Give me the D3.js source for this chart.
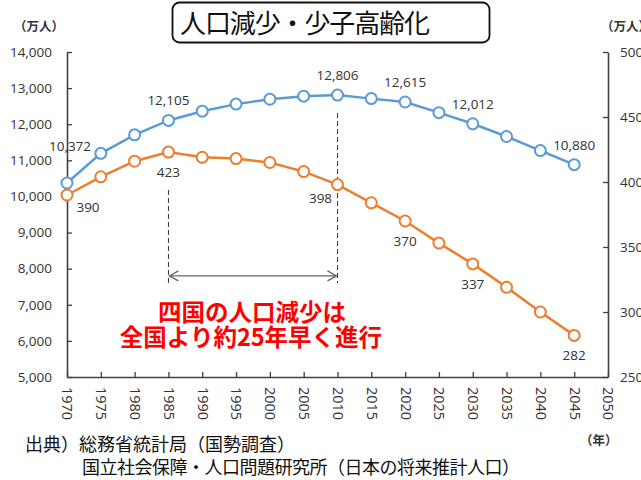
<!DOCTYPE html>
<html><head><meta charset="utf-8">
<script src="https://cdn.jsdelivr.net/npm/d3@7"></script>
<style>
html,body{margin:0;padding:0;background:#fff;}
svg{display:block;}
text{font-family:"Open Sans","Noto Sans CJK JP",sans-serif;}
.jp{font-family:"Noto Sans CJK JP","Noto Sans",sans-serif;}
</style></head>
<body>
<svg id="c" width="641" height="480"></svg>
<script>
// ---- data ----
const years   = [1970,1975,1980,1985,1990,1995,2000,2005,2010,2015,2020,2025,2030,2035,2040,2045];
const japan   = [10372,11194,11706,12105,12361,12557,12693,12777,12806,12709,12615,12320,12012,11660,11270,10880];
const shikoku = [390,404,416,423,419,418,415,408,398,384,370,353,337,319,300,282];
const xTicks     = [1970,1975,1980,1985,1990,1995,2000,2005,2010,2015,2020,2025,2030,2035,2040,2045,2050];
const leftTicks  = [5000,6000,7000,8000,9000,10000,11000,12000,13000,14000];
const rightTicks = [250,300,350,400,450,500];
const japanLabelYears   = [1970,1985,2010,2020,2030,2045];
const shikokuLabelYears = [1970,1985,2010,2020,2030,2045];
const title = "人口減少・少子高齢化";
const unitLabel = "（万人）";
const yearUnit = "（年）";
const note = ["四国の人口減少は","全国より約25年早く進行"];
const sources = ["出典）総務省統計局（国勢調査）","国立社会保障・人口問題研究所（日本の将来推計人口）"];

// ---- scales ----
const svg = d3.select("#c");
const x  = d3.scaleLinear().domain([1970,2050]).range([67,608]);
const yL = d3.scaleLinear().domain([5000,14000]).range([377,52]);
const yR = d3.scaleLinear().domain([250,500]).range([377,52]);
const blue = "#5B9BD5", orange = "#ED7D31", axisCol = "#404040", txt = "#333";

// ---- title box ----
svg.append("rect").attr("x",172.5).attr("y",2.5).attr("width",317).attr("height",40)
  .attr("rx",7).attr("fill","#fff").attr("stroke","#111").attr("stroke-width",1.8);
svg.append("text").attr("class","jp").attr("x",180).attr("y",33).attr("font-size",26)
  .attr("textLength",250).attr("lengthAdjust","spacing")
  .attr("fill","#111").text(title);

// ---- axes ----
function styleAxis(g){
  g.select(".domain").attr("stroke",axisCol).attr("stroke-width",1.6);
  g.selectAll(".tick line").attr("stroke",axisCol).attr("stroke-width",1.3);
  g.selectAll(".tick text").attr("fill",txt).attr("font-size",13.5)
    .attr("font-family","'Open Sans',sans-serif");
}
const gl = svg.append("g").attr("transform",`translate(${x(1970)},0)`)
  .call(d3.axisLeft(yL).tickValues(leftTicks).tickSize(-5).tickSizeOuter(0).tickPadding(15).tickFormat(d3.format(",")));
styleAxis(gl);
const gr = svg.append("g").attr("transform",`translate(${x(2050)},0)`)
  .call(d3.axisRight(yR).tickValues(rightTicks).tickSize(-5).tickSizeOuter(0).tickPadding(12));
styleAxis(gr);
const gx = svg.append("g").attr("transform",`translate(0,${yL(5000)})`)
  .call(d3.axisBottom(x).tickValues(xTicks).tickSize(-5).tickSizeOuter(0).tickFormat(d3.format("d")));
styleAxis(gx);
gx.selectAll(".tick text").attr("font-size",14.5).attr("y",0).attr("dy","0.35em")
  .attr("text-anchor","start").attr("transform","translate(0,10) rotate(90)");

// units
svg.append("text").attr("class","jp").attr("x",14).attr("y",31).attr("font-size",12.5)
  .attr("font-weight","bold").attr("fill",txt).text(unitLabel);
svg.append("text").attr("class","jp").attr("x",601).attr("y",31).attr("font-size",12.5)
  .attr("font-weight","bold").attr("fill",txt).text(unitLabel);
svg.append("text").attr("class","jp").attr("x",580).attr("y",445).attr("font-size",12.5)
  .attr("font-weight","bold").attr("fill",txt).text(yearUnit);

// ---- annotation: dashed lines + arrow ----
const dashCol = "#333";
svg.append("line").attr("x1",x(1985)).attr("x2",x(1985)).attr("y1",yL(10180)).attr("y2",yL(7600))
  .attr("stroke",dashCol).attr("stroke-width",1).attr("stroke-dasharray","5,3");
svg.append("line").attr("x1",x(2010)).attr("x2",x(2010)).attr("y1",yL(12310)).attr("y2",yL(7600))
  .attr("stroke",dashCol).attr("stroke-width",1).attr("stroke-dasharray","5,3");
const ay = yL(7800), ax1 = x(1985)+1, ax2 = x(2010)-1;
svg.append("line").attr("x1",ax1).attr("x2",ax2).attr("y1",ay).attr("y2",ay)
  .attr("stroke","#666").attr("stroke-width",1.3);
svg.append("path").attr("d",`M${ax1+9},${ay-5}L${ax1},${ay}L${ax1+9},${ay+5}M${ax2-9},${ay-5}L${ax2},${ay}L${ax2-9},${ay+5}`)
  .attr("fill","none").attr("stroke","#666").attr("stroke-width",1.3);

svg.append("text").attr("class","jp").attr("x",252).attr("y",321).attr("text-anchor","middle")
  .attr("font-size",23.5).attr("font-weight","bold").attr("fill","#FF0000").text(note[0]);
svg.append("text").attr("class","jp").attr("x",251).attr("y",346).attr("text-anchor","middle")
  .attr("font-size",23.5).attr("font-weight","bold").attr("fill","#FF0000").text(note[1]);

// ---- series ----
function drawSeries(vals, ys, col){
  const pts = years.map((yr,i)=>[x(yr), ys(vals[i])]);
  svg.append("path").attr("d",d3.line()(pts)).attr("fill","none").attr("stroke",col).attr("stroke-width",2.5);
  svg.append("g").selectAll("circle").data(pts).join("circle")
    .attr("cx",d=>d[0]).attr("cy",d=>d[1]).attr("r",5.5)
    .attr("fill","#fff").attr("stroke",col).attr("stroke-width",2);
}
drawSeries(japan, yL, blue);
drawSeries(shikoku, yR, orange);

// ---- data labels ----
const jOff = {1970:[3,-32]};
japanLabelYears.forEach(yr=>{
  const i = years.indexOf(yr), o = jOff[yr]||[0,-15];
  svg.append("text").attr("x",x(yr)+o[0]).attr("y",yL(japan[i])+o[1]).attr("text-anchor","middle")
    .attr("font-size",13.5).attr("fill",txt).text(d3.format(",")(japan[i]));
});
const sOff = {1970:[21,17], 2010:[-17,18]};
shikokuLabelYears.forEach(yr=>{
  const i = years.indexOf(yr), o = sOff[yr]||[0,25];
  svg.append("text").attr("x",x(yr)+o[0]).attr("y",yR(shikoku[i])+o[1]).attr("text-anchor","middle")
    .attr("font-size",13.5).attr("fill",txt).text(shikoku[i]);
});

// ---- sources ----
svg.append("text").attr("class","jp").attr("x",25).attr("y",451).attr("font-size",18)
  .attr("fill","#111").text(sources[0]);
svg.append("text").attr("class","jp").attr("x",82).attr("y",474).attr("font-size",18)
  .attr("textLength",438).attr("lengthAdjust","spacing")
  .attr("fill","#111").text(sources[1]);
</script>
</body></html>
